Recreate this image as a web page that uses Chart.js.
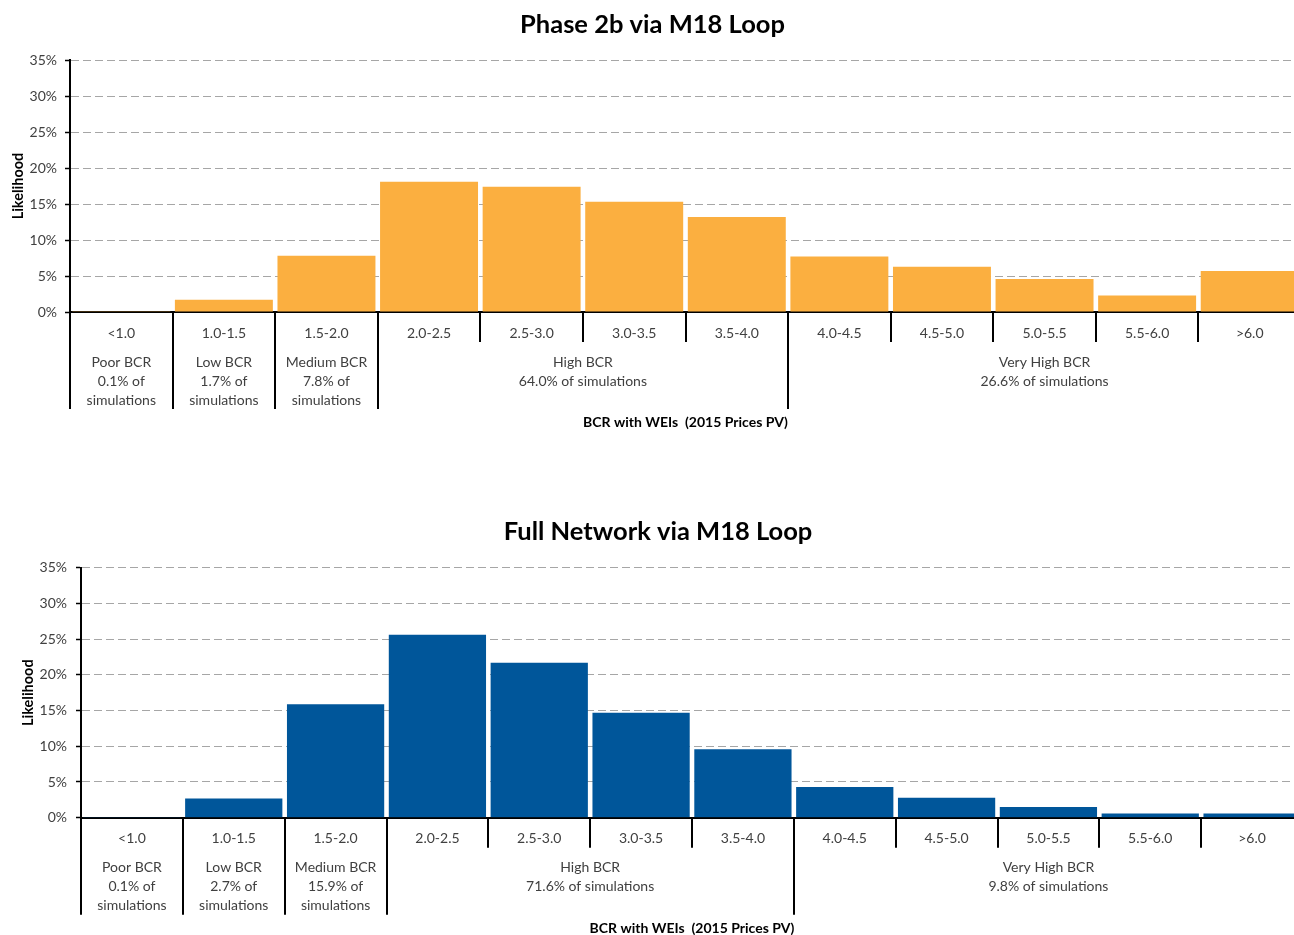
<!DOCTYPE html>
<html>
<head>
<meta charset="utf-8">
<script src="https://cdn.jsdelivr.net/npm/chart.js@4/dist/chart.umd.min.js"></script>
<style>
  html, body { margin: 0; padding: 0; background: #fff; overflow: hidden; width: 1294px; height: 935px; }
  canvas { position: absolute; left: 0; }
  #phase2b { top: 0; }
  #fullNetwork { top: 500px; }
</style>
</head>
<body>
<canvas id="phase2b" width="1305" height="440"></canvas>
<canvas id="fullNetwork" width="1316" height="440"></canvas>
<script>
// BCR bands on the x axis
const bcrBands = ['<1.0', '1.0-1.5', '1.5-2.0', '2.0-2.5', '2.5-3.0', '3.0-3.5',
                  '3.5-4.0', '4.0-4.5', '4.5-5.0', '5.0-5.5', '5.5-6.0', '>6.0'];

// Likelihood of each band (% of simulations)
const phase2bLikelihood     = [0.1, 1.7, 7.8, 18.1, 17.4, 15.3, 13.2, 7.7, 6.3, 4.6, 2.3, 5.7];
const fullNetworkLikelihood = [0.1, 2.7, 15.9, 25.6, 21.7, 14.7, 9.6, 4.3, 2.8, 1.5, 0.6, 0.6];

// BCR classes grouping the bands
const bcrClassNames      = ['Poor BCR', 'Low BCR', 'Medium BCR', 'High BCR', 'Very High BCR'];
const bcrClassBandCounts = [1, 1, 1, 4, 5];
const phase2bClassShares     = ['0.1', '1.7', '7.8', '64.0', '26.6'];
const fullNetworkClassShares = ['0.1', '2.7', '15.9', '71.6', '9.8'];

// Y axis ticks (%)
const likelihoodTicks = [0, 5, 10, 15, 20, 25, 30, 35];

const FONT = 'Lato, "Open Sans", sans-serif';
const TEXT = '#404040';

// Chart heading, centred on a given x
const headingPlugin = {
  id: 'heading',
  afterDraw(chart, args, opts) {
    const { ctx } = chart;
    ctx.save();
    ctx.fillStyle = '#000';
    ctx.font = 'bold 25.5px ' + FONT;
    ctx.textAlign = 'center';
    ctx.textBaseline = 'middle';
    ctx.fillText(opts.text, opts.x, opts.y);
    ctx.restore();
  }
};

// Draws the band separators, class dividers and class captions under the x axis
const bcrClassPlugin = {
  id: 'bcrClasses',
  afterDraw(chart, args, opts) {
    const { ctx, chartArea } = chart;
    const xs = chart.scales.x;
    const base = chartArea.bottom;
    const edge = i => xs.getPixelForValue(i - 0.5);
    ctx.save();
    ctx.strokeStyle = '#000';
    ctx.lineWidth = 2;
    // short separators between bands
    for (let i = 0; i <= bcrBands.length; i++) {
      const px = Math.round(edge(i));
      ctx.beginPath();
      ctx.moveTo(px, base);
      ctx.lineTo(px, base + 30);
      ctx.stroke();
    }
    // long dividers at class boundaries + captions
    ctx.fillStyle = TEXT;
    ctx.font = '14px ' + FONT;
    ctx.textAlign = 'center';
    ctx.textBaseline = 'middle';
    let start = 0;
    bcrClassNames.forEach((name, g) => {
      const count = bcrClassBandCounts[g];
      const x0 = edge(start), x1 = edge(start + count);
      const px = Math.round(x0);
      ctx.beginPath();
      ctx.moveTo(px, base);
      ctx.lineTo(px, base + opts.dividerLength);
      ctx.stroke();
      const share = opts.shares[g];
      const lines = count === 1
        ? [name, share + '% of', 'simulations']
        : [name, share + '% of simulations'];
      const cx = (x0 + x1) / 2;
      lines.forEach((t, k) => ctx.fillText(t, cx, base + opts.captionOffset + k * 19));
      start += count;
    });
    ctx.restore();
  }
};

function makeChart(id, title, values, color, shares, geom) {
  return new Chart(document.getElementById(id), {
    type: 'bar',
    data: {
      labels: bcrBands,
      datasets: [{
        data: values,
        backgroundColor: color,
        borderWidth: 0,
        barPercentage: 0.955,
        categoryPercentage: 1.0
      }]
    },
    plugins: [headingPlugin, bcrClassPlugin],
    options: {
      responsive: false,
      animation: false,
      devicePixelRatio: 1,
      layout: { padding: { left: 0, right: geom.padRight, top: geom.padTop, bottom: 0 } },
      plugins: {
        legend: { display: false },
        tooltip: { enabled: false },
        title: { display: false },
        heading: { text: title, x: geom.titleX, y: geom.titleY },
        bcrClasses: {
          shares: shares,
          dividerLength: 97,
          captionOffset: 50
        }
      },
      scales: {
        x: {
          type: 'category',
          offset: true,
          grid: { display: false },
          border: { display: true, color: '#000', width: 2 },
          ticks: {
            color: TEXT,
            font: { family: FONT, size: 14, lineHeight: 1.2 },
            padding: geom.xTickPad,
            maxRotation: 0,
            autoSkip: false
          },
          title: {
            display: true,
            text: 'BCR with WEIs  (2015 Prices PV)',
            color: '#000',
            font: { family: FONT, size: 14, weight: 'bold', lineHeight: 1.2 },
            padding: { top: 0, bottom: geom.xTitleBottom }
          },
          afterFit(scale) { scale.height = geom.xHeight; }
        },
        y: {
          min: 0,
          max: 35,
          afterBuildTicks(scale) { scale.ticks = likelihoodTicks.map(v => ({ value: v })); },
          grid: {
            color: '#a6a6a6',
            lineWidth: 1,
            tickLength: 5,
            tickColor: '#000',
            tickWidth: 1.5,
            tickBorderDash: []
          },
          border: { display: true, color: '#000', width: 2, dash: [8, 4] },
          ticks: {
            color: TEXT,
            font: { family: FONT, size: 14 },
            padding: geom.yTickPad,
            callback: v => v + '%'
          },
          title: {
            display: true,
            text: 'Likelihood',
            color: '#000',
            font: { family: FONT, size: 14.5, weight: 'bold', lineHeight: 1.2 },
            padding: { top: geom.yTitlePad, bottom: 0 }
          },
          afterFit(scale) { scale.width = geom.yWidth; }
        }
      }
    }
  });
}

makeChart('phase2b', 'Phase 2b via M18 Loop', phase2bLikelihood, '#FBAF40', phase2bClassShares, {
  padRight: 4, padTop: 60, titleX: 652.5, titleY: 25, xHeight: 128, xTickPad: 4.6,
  xTitleBottom: 9.5, yTickPad: 8, yTitlePad: 9.5, yWidth: 70
});

makeChart('fullNetwork', 'Full Network via M18 Loop', fullNetworkLikelihood, '#00569A', fullNetworkClassShares, {
  padRight: 13, padTop: 67.7, titleX: 658, titleY: 32, xHeight: 122.3, xTickPad: 4,
  xTitleBottom: 3.5, yTickPad: 9, yTitlePad: 19.5, yWidth: 81
});
</script>
</body>
</html>
